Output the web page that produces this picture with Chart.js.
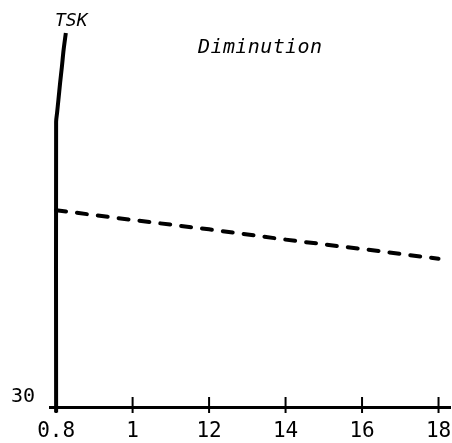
<!DOCTYPE html>
<html>
<head>
<meta charset="utf-8">
<script src="https://cdn.jsdelivr.net/npm/chart.js@4"></script>
<style>
  html, body { margin: 0; padding: 0; background: #fff; }
  #wrap { width: 452px; height: 443px; position: relative; }
</style>
</head>
<body>
<div id="wrap"><canvas id="c"></canvas></div>
<script>
// Category tick labels along the x axis (evenly spaced)
const xLabels = ['0.8', '1', '12', '14', '16', '18'];
// Dashed series "Diminution" values at each tick
const dimValues = [34.21, 34.0, 33.8, 33.58, 33.38, 33.17];
// TSK solid curve (rises along the y axis)
const tskX = [0, 0, 0.013, 0.03, 0.052, 0.075, 0.098, 0.127];
const tskY = [29.88, 36.1, 36.3, 36.57, 36.93, 37.27, 37.64, 38];
// Y axis
const yMin = 30, yMax = 38;
const yTickLabels = [30];
const seriesTitle = 'Diminution';
const axisTitle = 'TSK';

const dimData = dimValues.map((v, i) => ({ x: i, y: v }));
const tskData = tskX.map((x, i) => ({ x: x, y: tskY[i] }));

const FONT = '"DejaVu Sans Mono", "Liberation Mono", monospace';

const decor = {
  id: 'decor',
  afterDatasetsDraw(chart) {
    const ctx = chart.ctx;
    const xs = chart.scales.x;
    const bottom = chart.chartArea.bottom;
    ctx.save();
    ctx.strokeStyle = '#000';
    ctx.lineWidth = 2;
    xLabels.forEach((l, i) => {
      const px = xs.getPixelForValue(i);
      ctx.beginPath();
      ctx.moveTo(px, bottom - 10);
      ctx.lineTo(px, bottom + 6);
      ctx.stroke();
    });
    ctx.fillStyle = '#000';
    ctx.textBaseline = 'middle';
    ctx.textAlign = 'left';
    ctx.font = 'oblique 18px ' + FONT;
    ctx.fillText(axisTitle, 55, 21);
    ctx.font = 'oblique 20px ' + FONT;
    try { ctx.letterSpacing = '0.4px'; } catch (e) {}
    ctx.fillText(seriesTitle, 198, 48);
    ctx.restore();
  }
};

new Chart(document.getElementById('c'), {
  type: 'scatter',
  data: {
    datasets: [
      {
        label: axisTitle,
        data: tskData,
        showLine: true,
        borderColor: '#000',
        borderWidth: 4,
        pointRadius: 0,
        tension: 0.3,
        clip: false
      },
      {
        label: seriesTitle,
        data: dimData,
        showLine: true,
        borderColor: '#000',
        borderWidth: 4,
        borderDash: [10, 11],
        borderCapStyle: 'round',
        pointRadius: 0,
        tension: 0,
        clip: false
      }
    ]
  },
  options: {
    responsive: true,
    maintainAspectRatio: false,
    animation: false,
    layout: { padding: { top: 33, right: 2, left: 0, bottom: 0 } },
    plugins: { legend: { display: false }, tooltip: { enabled: false } },
    scales: {
      x: {
        type: 'linear',
        min: -0.08,
        max: 5.15,
        afterBuildTicks: (s) => { s.ticks = xLabels.map((l, i) => ({ value: i })); },
        afterFit: (s) => { s.height = 36; s.paddingLeft = 0; s.paddingRight = 0; },
        ticks: {
          callback: (v) => xLabels[v],
          color: '#000',
          font: { family: FONT, size: 21 },
          padding: 12,
          maxRotation: 0,
          autoSkip: false
        },
        grid: { display: false, drawTicks: false },
        border: { display: true, color: '#000', width: 3 }
      },
      y: {
        type: 'linear',
        min: yMin,
        max: yMax,
        afterBuildTicks: (s) => { s.ticks = yTickLabels.map(v => ({ value: v })); },
        afterFit: (s) => { s.width = 50; s.paddingTop = 0; s.paddingBottom = 0; },
        ticks: {
          color: '#000',
          font: { family: FONT, size: 20 },
          padding: 15,
          labelOffset: -10
        },
        grid: { display: false, drawTicks: false },
        border: { display: false }
      }
    }
  },
  plugins: [decor]
});
</script>
</body>
</html>
